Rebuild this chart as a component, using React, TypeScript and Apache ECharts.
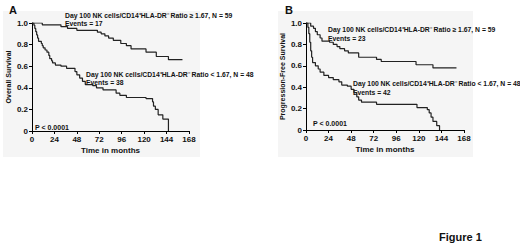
import React, { useEffect, useRef } from "react";
import * as echarts from "echarts";

const xTicks = [0, 24, 48, 72, 96, 120, 144, 168];

const osHigh: [number, number][] = [
  [0, 1.0], [11, 0.983], [31, 0.966], [38, 0.95], [48, 0.932], [70, 0.915], [74, 0.9], [78, 0.88],
  [82, 0.86], [87, 0.84], [95, 0.81], [101, 0.79], [106, 0.76], [122, 0.73], [133, 0.69], [146, 0.66], [161, 0.66],
];
const osLow: [number, number][] = [
  [0, 1.0], [2, 0.98], [3, 0.95], [4, 0.92], [5, 0.89], [6, 0.86], [7, 0.83], [10, 0.81], [11, 0.79],
  [12, 0.77], [14, 0.75], [16, 0.73], [18, 0.7], [19, 0.67], [21, 0.65], [22, 0.63], [25, 0.61],
  [31, 0.6], [37, 0.58], [46, 0.55], [48, 0.52], [51, 0.49], [54, 0.46], [57, 0.43], [65, 0.42],
  [69, 0.4], [76, 0.38], [90, 0.35], [94, 0.33], [101, 0.31], [122, 0.3], [129, 0.27], [130, 0.23],
  [132, 0.2], [135, 0.15], [140, 0.11], [146, 0.0],
];
const pfsHigh: [number, number][] = [
  [0, 1.0], [5, 0.97], [8, 0.95], [10, 0.92], [12, 0.89], [15, 0.86], [17, 0.83], [25, 0.82],
  [29, 0.8], [33, 0.78], [36, 0.76], [41, 0.74], [45, 0.72], [56, 0.68], [75, 0.66], [80, 0.64],
  [117, 0.61], [135, 0.58], [160, 0.58],
];
const pfsLow: [number, number][] = [
  [0, 1.0], [2, 0.96], [3, 0.9], [4, 0.82], [5, 0.74], [6, 0.68], [7, 0.63], [10, 0.6], [13, 0.57],
  [15, 0.54], [19, 0.51], [24, 0.49], [29, 0.47], [35, 0.45], [38, 0.42], [44, 0.41], [48, 0.38],
  [51, 0.35], [54, 0.31], [56, 0.28], [59, 0.26], [75, 0.24], [118, 0.21], [129, 0.19], [131, 0.16],
  [133, 0.12], [135, 0.08], [139, 0.04], [142, 0.0],
];

const hiLabel = "Day 100 NK cells/CD14\u207AHLA-DR\u207B Ratio \u2265 1.67, N = 59";
const loLabel = "Day 100 NK cells/CD14\u207AHLA-DR\u207B Ratio < 1.67, N = 48";
const eventsA = ["Events = 17", "Events = 38"];
const eventsB = ["Events = 23", "Events = 42"];
const yNames = ["Overall Survival", "Progression-Free Survival"];
const pText = "P < 0.0001";

const FONT = "Liberation Sans, Arial, sans-serif";

export default function App() {
  const ref = useRef<HTMLDivElement>(null);
  useEffect(() => {
    if (!ref.current) return;
    const chart = echarts.init(ref.current, null, { renderer: "svg" });
    const grids = [
      { left: 32, top: 23, width: 157, height: 108 },
      { left: 306, top: 23, width: 158, height: 107 },
    ];
    const mkX = (i: number) => ({
      type: "value",
      gridIndex: i,
      min: 0,
      max: 168,
      interval: 24,
      name: "Time in months",
      nameLocation: "middle",
      nameGap: 15,
      nameTextStyle: { fontFamily: FONT, fontWeight: "bold", fontSize: 8, color: "#111" },
      axisLine: { show: true, lineStyle: { color: "#000", width: 1 } },
      axisTick: { show: true, length: 3, lineStyle: { color: "#000" } },
      axisLabel: { fontFamily: FONT, fontWeight: "bold", fontSize: 8, color: "#111", margin: 4 },
      splitLine: { show: false },
    });
    const mkY = (i: number) => ({
      type: "value",
      gridIndex: i,
      min: 0,
      max: 1,
      interval: 0.2,
      name: yNames[i],
      nameLocation: "middle",
      nameGap: 20,
      nameTextStyle: { fontFamily: FONT, fontWeight: "bold", fontSize: 7, color: "#111" },
      axisLine: { show: true, lineStyle: { color: "#000", width: 1 } },
      axisTick: { show: true, length: 3, lineStyle: { color: "#000" } },
      axisLabel: {
        fontFamily: FONT, fontWeight: "bold", fontSize: 8, color: "#111", margin: 4,
        formatter: (v: number) => (v === 0 ? "0" : v.toFixed(1)),
      },
      splitLine: { show: false },
    });
    const line = (data: [number, number][], i: number) => ({
      type: "line",
      xAxisIndex: i,
      yAxisIndex: i,
      step: "end",
      data,
      symbol: "none",
      lineStyle: { color: "#222", width: 1.2 },
    });
    const txt = (x: number, y: number, text: string, size = 6.8, bold = "bold") => ({
      type: "text",
      x,
      y,
      style: { text, fontFamily: FONT, fontWeight: bold, fontSize: size, fill: "#111", textVerticalAlign: "middle" },
    });
    chart.setOption({
      animation: false,
      backgroundColor: "#fff",
      grid: grids,
      xAxis: [mkX(0), mkX(1)],
      yAxis: [mkY(0), mkY(1)],
      series: [line(osHigh, 0), line(osLow, 0), line(pfsHigh, 1), line(pfsLow, 1)],
      graphic: [
        { type: "rect", z: -10, shape: { x: 3, y: 11, width: 197, height: 146 }, style: { fill: "#f5f5f5" } },
        { type: "rect", z: -10, shape: { x: 278, y: 11, width: 195, height: 146 }, style: { fill: "#f5f5f5" } },
        txt(9, 10, "A", 11),
        txt(285, 10, "B", 11),
        txt(65, 15, hiLabel),
        txt(65, 23, eventsA[0]),
        txt(86, 74, loLabel),
        txt(86, 82, eventsA[1]),
        txt(35, 127, pText, 7),
        txt(328, 29, hiLabel),
        txt(328, 38, eventsB[0]),
        txt(353, 83, loLabel),
        txt(353, 92, eventsB[1]),
        txt(313, 123, pText, 7),
        txt(439, 237, "Figure 1", 11),
      ],
    });
    return () => chart.dispose();
  }, []);
  return <div ref={ref} style={{ position: "fixed", left: 0, top: 0, width: 520, height: 246 }} />;
}
